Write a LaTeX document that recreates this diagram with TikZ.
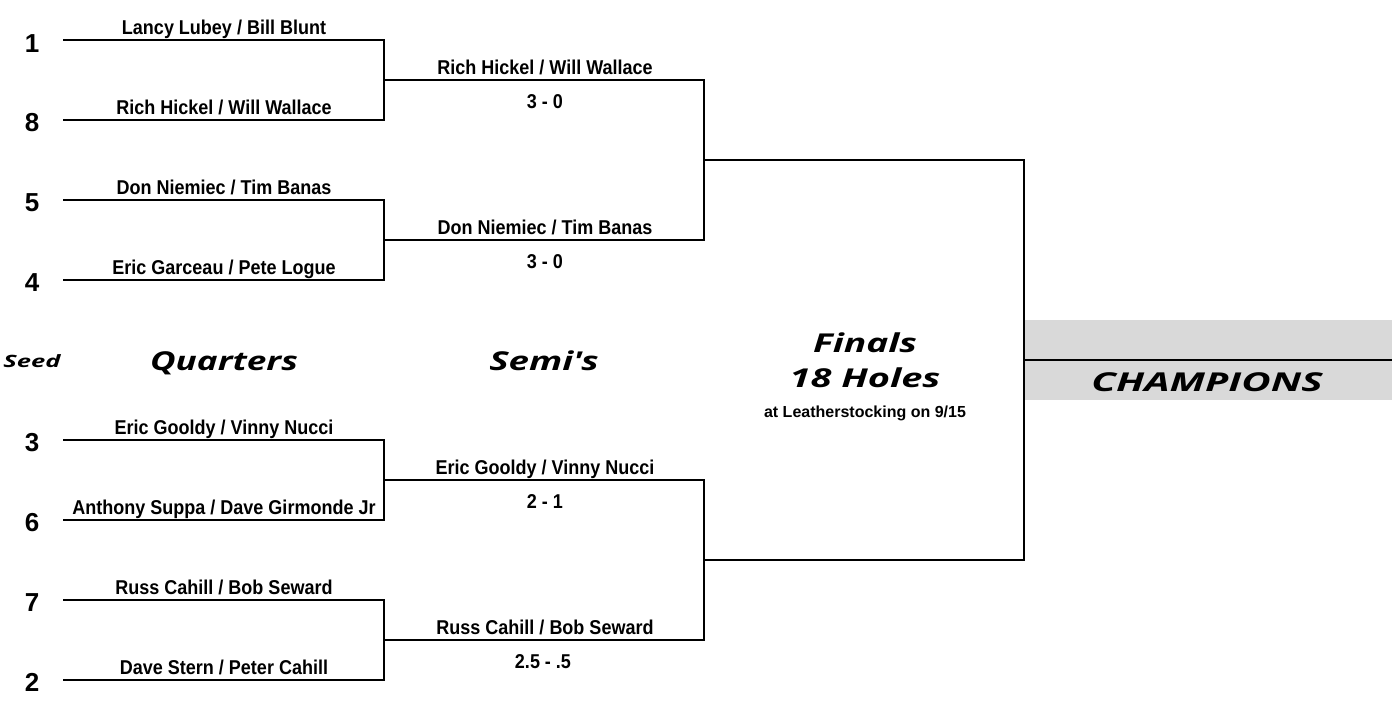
\documentclass[tikz,border=0pt]{standalone}
\usepackage{fontspec}
\setmainfont{Liberation Sans}
\newfontfamily\namefont[FakeStretch=0.9]{Liberation Sans}
\newfontfamily\titlefont{Open Sans}
\definecolor{champgray}{HTML}{D9D9D9}
\tikzset{
  bline/.style={line width=2pt, line cap=rect},
  pname/.style={anchor=base, inner sep=0pt, font=\namefont\bfseries\fontsize{20}{20}\selectfont},
  score/.style={anchor=base, inner sep=0pt, font=\namefont\bfseries\fontsize{20}{20}\selectfont},
  seednum/.style={anchor=base, inner sep=0pt, font=\bfseries\fontsize{26}{26}\selectfont},
  ttl/.style={anchor=base, inner sep=0pt, font=\titlefont\bfseries\itshape\fontsize{26}{26}\selectfont},
}
\begin{document}
\begin{tikzpicture}[x=1pt,y=-1pt]
\useasboundingbox (0,0) rectangle (1392,721);
\fill[champgray] (1025,320) rectangle (1392,400);
% quarter lines
\foreach \i/\y in {q1/40,q2/120,q3/200,q4/280,q5/440,q6/520,q7/600,q8/680}{
  \coordinate (\i s) at (64,\y);
  \coordinate (\i e) at (384,\y);
}
\foreach \i/\y in {s1/80,s2/240,s3/480,s4/640}{
  \coordinate (\i s) at (384,\y);
  \coordinate (\i e) at (704,\y);
}
\foreach \i/\y in {f1/160,f2/560}{
  \coordinate (\i s) at (704,\y);
  \coordinate (\i e) at (1024,\y);
}
\coordinate (cs) at (1024,360);
\coordinate (ce) at (1392,360);
\draw[bline] (q1s) -- (q1e) -- (q2e) -- (q2s);
\draw[bline] (q3s) -- (q3e) -- (q4e) -- (q4s);
\draw[bline] (q5s) -- (q5e) -- (q6e) -- (q6s);
\draw[bline] (q7s) -- (q7e) -- (q8e) -- (q8s);
\draw[bline] (s1s) -- (s1e) -- (s2e) -- (s2s);
\draw[bline] (s3s) -- (s3e) -- (s4e) -- (s4s);
\draw[bline] (f1s) -- (f1e) -- (f2e) -- (f2s);
\draw[bline] (cs) -- (ce);
% seeds
\node[seednum] (n1) at (32,52) {1};
\node[seednum] (n8) at (32,131) {8};
\node[seednum] (n5) at (32,211) {5};
\node[seednum] (n4) at (32,291) {4};
\node[seednum] (n3) at (32,451) {3};
\node[seednum] (n6) at (32,531) {6};
\node[seednum] (n7) at (32,611) {7};
\node[seednum] (n2) at (32,691) {2};
% quarter names
\node[pname] (a1) at (224,34) {Lancy Lubey / Bill Blunt};
\node[pname] (a2) at (224,114) {Rich Hickel / Will Wallace};
\node[pname] (a3) at (224,194) {Don Niemiec / Tim Banas};
\node[pname] (a4) at (224,274) {Eric Garceau / Pete Logue};
\node[pname] (a5) at (224,434) {Eric Gooldy / Vinny Nucci};
\node[pname] (a6) at (224,514) {Anthony Suppa / Dave Girmonde Jr};
\node[pname] (a7) at (224,594) {Russ Cahill / Bob Seward};
\node[pname] (a8) at (224,674) {Dave Stern / Peter Cahill};
% semi names and scores
\node[pname] (b1) at (545,74) {Rich Hickel / Will Wallace};
\node[score] (r1) at (545,108) {3 - 0};
\node[pname] (b2) at (545,234) {Don Niemiec / Tim Banas};
\node[score] (r2) at (545,268) {3 - 0};
\node[pname] (b3) at (545,474) {Eric Gooldy / Vinny Nucci};
\node[score] (r3) at (545,508) {2 - 1};
\node[pname] (b4) at (545,634) {Russ Cahill / Bob Seward};
\node[score] (r4) at (543,668) {2.5 - .5};
% titles
\node[ttl, font=\titlefont\bfseries\itshape\fontsize{17}{17}\selectfont] (tseed) at (32,367) {\scalebox{1.5}[1]{Seed}};
\node[ttl] (tq) at (224,370) {\scalebox{1.35}[1]{Quarters}};
\node[ttl] (ts) at (544,370) {\scalebox{1.41}[1]{Semi's}};
\node[ttl] (tf1) at (865,352) {\scalebox{1.43}[1]{Finals}};
\node[ttl] (tf2) at (865,387) {\scalebox{1.46}[1]{18 Holes}};
\node[anchor=base, inner sep=0pt, font=\bfseries\fontsize{16}{16}\selectfont] (tf3) at (865,417) {at Leatherstocking on 9/15};
\node[ttl] (tc) at (1207,391) {\scalebox{1.55}[1]{CHAMPIONS}};
\end{tikzpicture}
\end{document}
